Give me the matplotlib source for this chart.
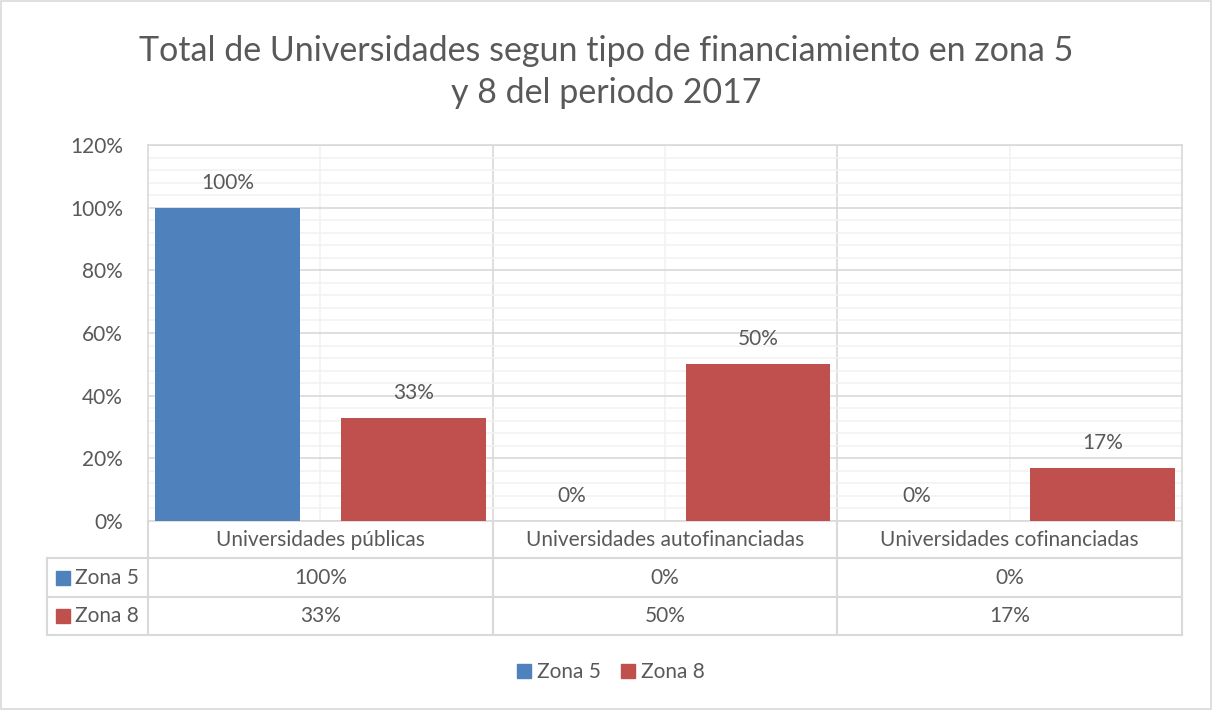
import matplotlib
matplotlib.use("Agg")
import matplotlib.pyplot as plt
from matplotlib.patches import Rectangle
from matplotlib.transforms import blended_transform_factory
from matplotlib.ticker import MultipleLocator, FuncFormatter
import numpy as np

# ---- data ----
categories = ["Universidades públicas", "Universidades autofinanciadas", "Universidades cofinanciadas"]
series_names = ["Zona 5", "Zona 8"]
zona5 = [1.00, 0.00, 0.00]
zona8 = [0.33, 0.50, 0.17]
title = "Total de Universidades segun tipo de financiamiento en zona 5\ny 8 del periodo 2017"

colors = ["#4F81BD", "#C0504D"]
txt = "#595959"
grid_major = "#D9D9D9"
grid_minor = "#F2F2F2"
FONT = ["Lato", "DejaVu Sans"]
plt.rcParams["font.family"] = FONT
FS = 15

W, H = 1212, 710
fig = plt.figure(figsize=(W / 100, H / 100), dpi=100)

def fx(px):
    return px / W

def fy(py):
    return 1 - py / H

L, R, T, B = 148, 1182, 145, 521
ax = fig.add_axes([fx(L), fy(B), fx(R) - fx(L), fy(T) - fy(B)])

n = len(categories)
x = np.arange(n)
bw = 0.42
off = 0.27
vals = [zona5, zona8]
for i, (s, v) in enumerate(zip(series_names, vals)):
    pos = x + (-off if i == 0 else off)
    ax.bar(pos, v, width=bw, color=colors[i], zorder=3, label=s)
    for p, val in zip(pos, v):
        ax.annotate(f"{round(val*100):.0f}%", (p, val), xytext=(0, 18), textcoords="offset points",
                    ha="center", va="center", fontsize=FS, color=txt, zorder=4)

ax.set_xlim(-0.5, n - 0.5)
ax.set_ylim(0, 1.2)
ax.yaxis.set_major_locator(MultipleLocator(0.2))
ax.yaxis.set_minor_locator(MultipleLocator(0.04))
ax.yaxis.set_major_formatter(FuncFormatter(lambda v, p: f"{v*100:.0f}%"))
ax.tick_params(axis="y", which="both", length=0, labelsize=FS, labelcolor=txt, pad=18)
ax.set_xticks([])
ax.set_xticks(x, minor=True)
ax.tick_params(axis="x", which="minor", length=0, labelbottom=False)
ax.grid(axis="y", which="major", color=grid_major, lw=1.2, zorder=0)
ax.grid(axis="y", which="minor", color=grid_minor, lw=1.2, zorder=0)
ax.grid(axis="x", which="minor", color=grid_minor, lw=1.2, zorder=0)
for b in np.arange(0.5, n - 0.5, 1):
    ax.axvline(b, color=grid_major, lw=1.2, zorder=0)
for side in ["top", "right", "left", "bottom"]:
    ax.spines[side].set_color(grid_major)
    ax.spines[side].set_linewidth(1.2)

# ---- data table ----
tr = blended_transform_factory(ax.transData, fig.transFigure)
row_y = [B, 558, 597, 635]
x_left_hdr = -0.5 - (L - 47) / ((R - L) / n)
line_kw = dict(color=grid_major, lw=1.5, transform=tr, clip_on=False)
for yy in row_y[1:]:
    fig.add_artist(plt.Line2D([x_left_hdr, n - 0.5], [fy(yy), fy(yy)], **line_kw))
fig.add_artist(plt.Line2D([x_left_hdr, x_left_hdr], [fy(558), fy(635)], **line_kw))
for b in np.arange(-0.5, n, 1):
    fig.add_artist(plt.Line2D([b, b], [fy(B), fy(635)], **line_kw))

for i, c in enumerate(categories):
    fig.text(x[i], fy((B + 558) / 2), c, transform=tr, ha="center", va="center",
             fontsize=FS, color=txt)
for r, (s, v) in enumerate(zip(series_names, vals)):
    yc = (row_y[r + 1] + row_y[r + 2]) / 2
    for i, val in enumerate(v):
        fig.text(x[i], fy(yc), f"{round(val*100):.0f}%", transform=tr, ha="center",
                 va="center", fontsize=FS, color=txt)
    fig.add_artist(Rectangle((fx(56), fy(yc + 7)), fx(14), fy(0) - fy(14),
                             transform=fig.transFigure, color=colors[r]))
    fig.text(fx(75), fy(yc), s, ha="left", va="center", fontsize=FS, color=txt)

# ---- legend ----
handles = [Rectangle((0, 0), 1, 1, color=c) for c in colors]
fig.legend(handles, series_names, loc="center", bbox_to_anchor=(fx(611), fy(672)), ncol=2,
           frameon=False, fontsize=FS, labelcolor=txt, handlelength=0.65, handleheight=0.65,
           handletextpad=0.3, columnspacing=1.0)

# ---- title ----
fig.text(0.5, fy(72), title, ha="center", va="center", fontsize=24.5, color=txt,
         linespacing=1.38)

# ---- outer border ----
fig.add_artist(Rectangle((fx(1), fy(709)), fx(1210), fy(0) - fy(708), transform=fig.transFigure,
                         fill=False, edgecolor=grid_major, lw=1.2))

fig.savefig("out.png", dpi=100)
